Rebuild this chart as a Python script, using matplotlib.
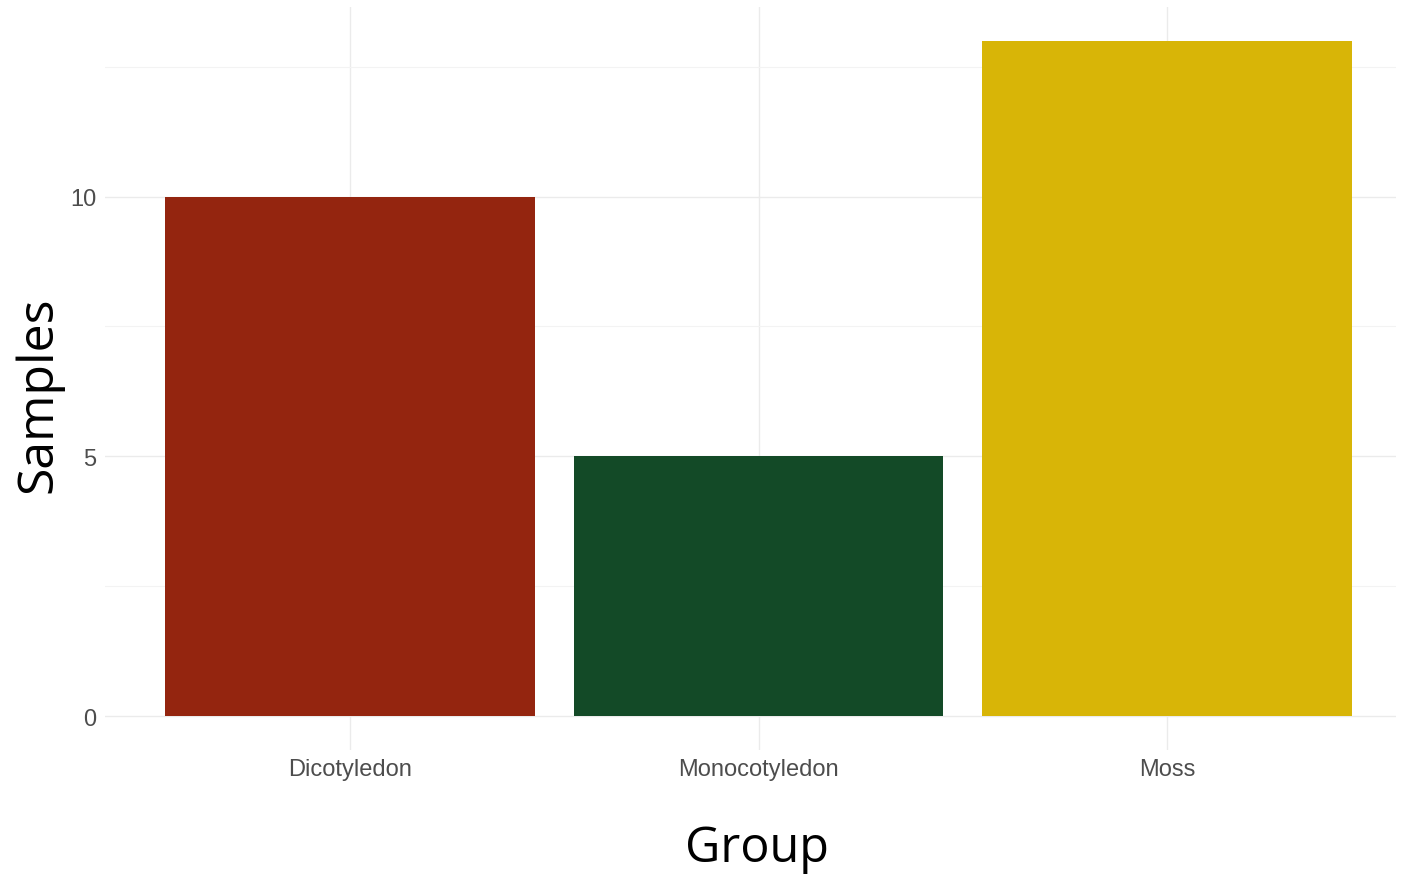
import matplotlib
matplotlib.use("Agg")
import matplotlib.pyplot as plt
from matplotlib.ticker import MultipleLocator

groups = ["Dicotyledon", "Monocotyledon", "Moss"]
samples = [10, 5, 13]
colors = ["#94250F", "#134A27", "#D8B507"]

fig = plt.figure(figsize=(14.1, 8.79), dpi=100)
ax = fig.add_axes([0.0745, 0.1456, 0.9155, 0.8454])

x = range(len(groups))
ax.bar(x, samples, width=0.905, color=colors, zorder=2)

ax.set_xlim(-0.6, 2.56)
ax.set_ylim(-0.65, 13.65)
ax.set_xticks(list(x))
ax.set_xticklabels(groups)
ax.set_yticks([0, 5, 10])
ax.yaxis.set_minor_locator(MultipleLocator(2.5))

ax.grid(True, which="major", color="#EBEBEB", linewidth=1.0, zorder=0)
ax.grid(True, which="minor", axis="y", color="#F3F3F3", linewidth=0.8, zorder=0)
ax.set_axisbelow(True)
for s in ax.spines.values():
    s.set_visible(False)

tick_font = ["Liberation Sans Narrow", "Liberation Sans", "DejaVu Sans"]
ax.tick_params(which="both", length=0, colors="#4D4D4D", labelsize=17)
ax.tick_params(axis="y", pad=6)
ax.tick_params(axis="x", pad=6)
for lab in ax.get_xticklabels() + ax.get_yticklabels():
    lab.set_family(tick_font)

ax.set_xlabel("Group", fontsize=35, family=["Open Sans", "DejaVu Sans"], labelpad=31)
ax.xaxis.label.set_x(0.505)
ax.set_ylabel("Samples", fontsize=36, family=["Open Sans", "DejaVu Sans"])
ax.yaxis.set_label_coords(-0.032, 0.48)

fig.savefig("out.png", dpi=100, facecolor="white")
